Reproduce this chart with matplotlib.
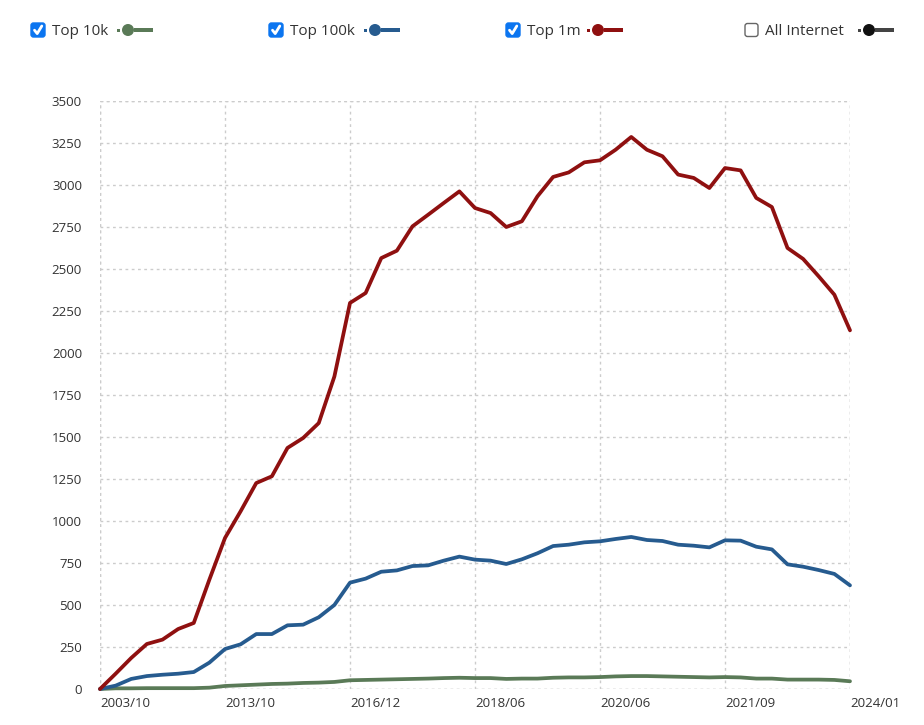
import matplotlib
matplotlib.use('Agg')
import matplotlib.pyplot as plt
from matplotlib.patches import FancyBboxPatch, Circle, Rectangle
import numpy as np

plt.rcParams['font.family'] = ['Open Sans', 'DejaVu Sans']

# sample points are evenly spaced along the axis, labels every 8 samples
tick_labels = ['2003/10', '2013/10', '2016/12', '2018/06', '2020/06', '2021/09', '2024/01']

top_1m = [0, 91, 185, 268, 294, 357, 393, 651, 899, 1058, 1226, 1266, 1435, 1494, 1583, 1860,
          2298, 2357, 2565, 2609, 2754, 2823, 2893, 2962, 2863, 2833, 2750, 2784, 2933, 3048,
          3075, 3135, 3147, 3210, 3286, 3210, 3171, 3062, 3042, 2982, 3101, 3087, 2923, 2869,
          2625, 2560, 2456, 2347, 2135]
top_100k = [0, 20, 60, 77, 85, 91, 101, 157, 238, 266, 327, 327, 379, 383, 427, 500,
            633, 657, 698, 706, 732, 736, 764, 788, 770, 764, 744, 772, 808, 851,
            859, 873, 879, 893, 905, 887, 881, 859, 853, 843, 885, 883, 847, 831,
            742, 728, 708, 685, 617]
top_10k = [0, 4, 4, 5, 5, 5, 5, 8, 18, 22, 26, 30, 32, 36, 38, 42,
           52, 54, 56, 58, 60, 62, 65, 67, 65, 65, 60, 62, 62, 67,
           69, 69, 71, 75, 77, 77, 75, 73, 71, 69, 71, 69, 62, 62,
           56, 56, 56, 54, 46]

GREEN = '#5a7a57'
BLUE = '#265b8f'
RED = '#8f1010'
BLACK = '#111111'

W, H = 924, 725
fig = plt.figure(figsize=(W / 100, H / 100), dpi=100)
ax = fig.add_axes([100 / W, (H - 689) / H, 750 / W, 588 / H])

x = np.arange(len(top_1m))
for series, color in [(top_10k, GREEN), (top_100k, BLUE), (top_1m, RED)]:
    ax.plot(x, series, color=color, lw=2.7, solid_joinstyle='round', solid_capstyle='round',
            clip_on=False, zorder=3)

ax.set_xlim(0, len(x) - 1)
ax.set_ylim(0, 3500)
ax.set_xticks(np.arange(0, len(x), 8))
ax.set_xticklabels(tick_labels, ha='left')
ax.set_yticks(np.arange(0, 3501, 250))
ax.tick_params(length=0, labelsize=9.5, colors='#333333')
ax.tick_params(axis='y', pad=13)
ax.tick_params(axis='x', pad=6)
grid_style = dict(color='#cccccc', linestyle=(0, (2, 2.5)), linewidth=1)
ax.grid(True, **grid_style)
for s in ax.spines.values():
    s.set_visible(False)
# grid at the edges too
ax.axvline(len(x) - 1, zorder=0, **grid_style)
ax.axvline(0, zorder=0, **grid_style)
ax.axhline(3500, zorder=0, **grid_style)
ax.axhline(0, zorder=0, **grid_style)

# legend row with checkboxes, drawn in pixel coordinates
lg = fig.add_axes([0, 0, 1, 1])
lg.set_xlim(0, W)
lg.set_ylim(H, 0)
lg.axis('off')

# name, colour, checked, checkbox x, icon x
legend_items = [
    ('Top 10k', GREEN, True, 30, 117),
    ('Top 100k', BLUE, True, 268, 364),
    ('Top 1m', RED, True, 505, 587),
    ('All Internet', BLACK, False, 743, 858),
]
cy = 30
for name, color, checked, x0, mx in legend_items:
    if checked:
        lg.add_patch(FancyBboxPatch((x0 + 1, cy - 7), 14, 14, boxstyle='round,pad=0,rounding_size=2.5',
                                    fc='#0b75f0', ec='#0b75f0', lw=1))
        lg.plot([x0 + 4.5, x0 + 7.2, x0 + 11.8], [cy + 0.2, cy + 3.6, cy - 4], color='white',
                lw=2, solid_capstyle='round', solid_joinstyle='round')
    else:
        lg.add_patch(FancyBboxPatch((x0 + 2, cy - 6.5), 13, 13, boxstyle='round,pad=0,rounding_size=2.5',
                                    fc='white', ec='#666666', lw=1))
    lg.text(x0 + 22, cy + 1, name, fontsize=11, color='#333333', va='center', ha='left')
    icon = '#444444' if color == BLACK else color
    lg.add_patch(Rectangle((mx, cy - 1.5), 3, 3, fc=icon, ec='none'))
    lg.add_patch(Rectangle((mx + 17, cy - 1.8), 19, 3.6, fc=icon, ec='none'))
    lg.add_patch(Circle((mx + 11, cy), 6, fc=color, ec='none'))

fig.savefig('out.png', dpi=100)
